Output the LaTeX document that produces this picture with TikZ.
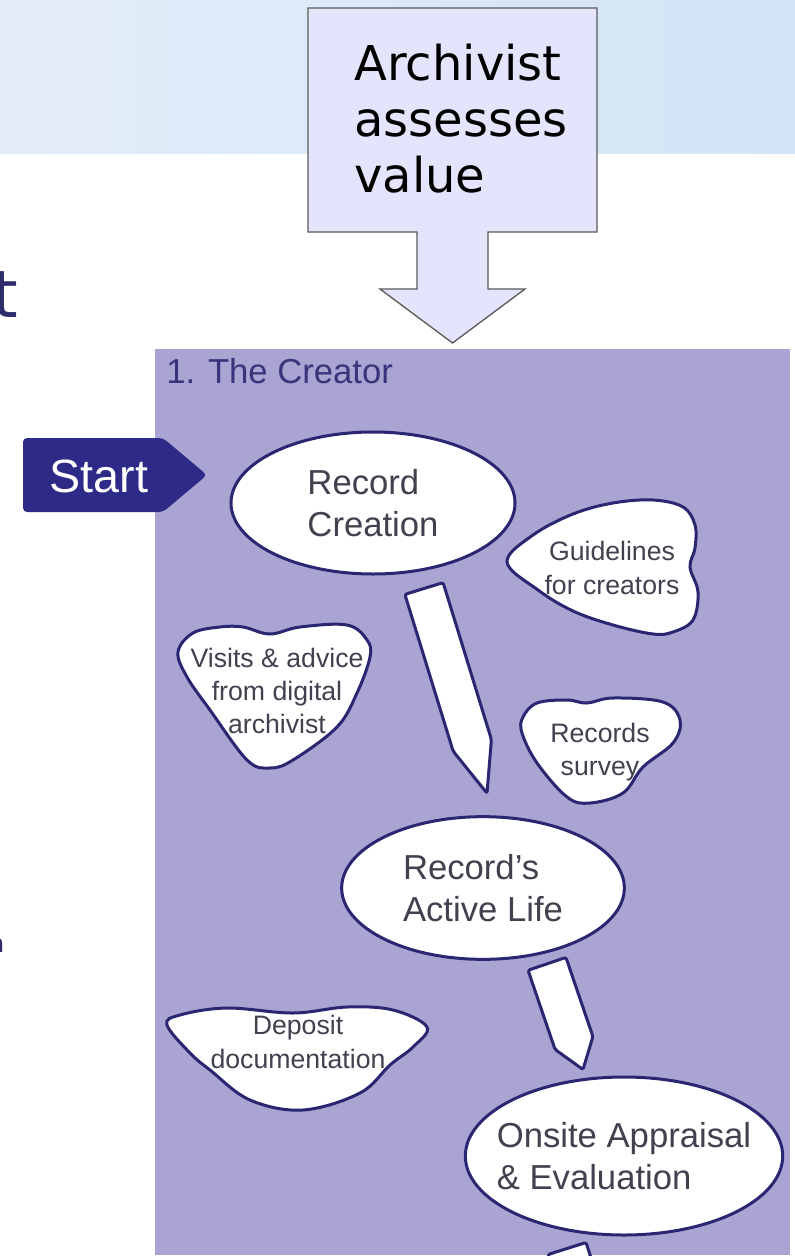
\documentclass[tikz,border=0pt]{standalone}
\usepackage{fontspec}
\setmainfont{Liberation Sans}
\newfontfamily\dejavu{DejaVu Sans}
\usetikzlibrary{shapes.geometric,calc,positioning}

\definecolor{bandleft}{HTML}{E3EDF8}
\definecolor{bandright}{HTML}{D2E4F7}
\definecolor{panelfill}{HTML}{A9A4D1}
\definecolor{calloutfill}{HTML}{E4E4FC}
\definecolor{calloutline}{HTML}{5A5A5A}
\definecolor{navyline}{HTML}{2B2672}
\definecolor{startfill}{HTML}{2E2A87}
\definecolor{creatortext}{HTML}{38357C}
\definecolor{bodytext}{HTML}{41414F}
\definecolor{titletext}{HTML}{2E2C6B}

\tikzset{
  stage/.style={ellipse,draw=navyline,line width=2.25pt,fill=white,inner xsep=-40pt,inner ysep=-12pt,
    align=left,text=bodytext,font=\fontsize{26}{32}\selectfont},
  blobline/.style={draw=navyline,line width=2.25pt,fill=white},
  blobtext/.style={align=center,text=bodytext,inner sep=0pt,font=\fontsize{20}{25}\selectfont},
  pencilline/.style={draw=navyline,line width=2.25pt,fill=white,line join=round,rounded corners=1.5pt}
}

% pencil arrow: start, tip, tip length
\newcommand{\pencil}[3]{%
  \coordinate (pm) at ($(#2)!#3!(#1)$);
  \draw[pencilline] ($(#1)!15pt!90:(#2)$) -- ($(pm)!15pt!90:(#2)$) -- (#2)
    -- ($(pm)!15pt!-90:(#2)$) -- ($(#1)!15pt!-90:(#2)$) -- cycle;
}

\begin{document}
\begin{tikzpicture}[x=0.75pt,y=-0.75pt]
  \useasboundingbox (0,0) rectangle (795,1259);
  \fill[white] (0,0) rectangle (795,1259);
  \shade[left color=bandleft,right color=bandright] (0,0) rectangle (795,154);

  % cut-off title letters
  \node[anchor=base west,inner sep=0pt,text=titletext,font=\dejavu\fontsize{49}{49}\selectfont] (titlet) at (-8,317) {t};
  \node[anchor=base west,inner sep=0pt,text=titletext,font=\dejavu\fontsize{19}{19}\selectfont] (titlen) at (-12,952) {n};

  % callout
  \draw[fill=calloutfill,draw=calloutline,line width=1pt] (308,8) -- (597,8) -- (597,232) -- (488,232)
    -- (488,289) -- (525,289) -- (452.5,343) -- (380,289) -- (417,289) -- (417,232) -- (308,232) -- cycle;
  \node[anchor=north west,inner sep=0pt,align=left,font=\dejavu\fontsize{36}{42}\selectfont] (assess) at (354,43.5) {Archivist\\assesses\\value};

  % panel
  \fill[panelfill] (155,349) rectangle (790,1255);
  \node[anchor=base west,inner sep=0pt,text=creatortext,font=\fontsize{26}{26}\selectfont] (creator) at (166,383) {1. The Creator};

  % start tag
  \fill[startfill,rounded corners=3pt] (23,438) -- (163,438) -- (207,475) -- (163,512) -- (23,512) -- cycle;
  \node[inner sep=0pt,text=white,font=\fontsize{35}{35}\selectfont] (start) at (99,476) {Start};

  % stages
  \node[stage,minimum width=213pt,minimum height=106.5pt] (creation) at (373,503) {Record\\Creation};
  \node[stage,minimum width=212pt,minimum height=107pt] (active) at (483,888) {Record's\\Active Life};
  \node[stage,minimum width=238pt,minimum height=118.5pt] (onsite) at (624,1156) {Onsite Appraisal\\\& Evaluation};

  % pencils between stages
  \coordinate (p1s) at ($(creation.south)+(51,13)$);
  \coordinate (p1t) at ($(active.north)+(4,-22)$);
  \pencil{p1s}{p1t}{37.5pt}
  \coordinate (p2s) at ($(active.south)+(64,3)$);
  \coordinate (p2t) at ($(onsite.north)+(-41,-6)$);
  \pencil{p2s}{p2t}{21pt}
  \begin{scope}
    \clip (155,349) rectangle (790,1255);
    \coordinate (p3s) at ($(onsite.south)+(-57,12)$);
    \coordinate (p3t) at ($(p3s)+(31,98)$);
    \pencil{p3s}{p3t}{21pt}
  \end{scope}

  % side notes
  \draw[blobline] plot[smooth cycle,tension=0.6] coordinates {(507,562) (533,535) (573,514) (613,503)
    (653,500) (683,507) (695,525) (695,548) (690,567) (698,592) (693,620) (673,632) (653,634)
    (613,625) (573,611) (538,590)};
  \node[blobtext] (guide) at (612,568) {Guidelines\\for creators};

  \draw[blobline] plot[smooth cycle,tension=0.6] coordinates {(178,652) (193,633) (220,627) (243,627)
    (270,634) (300,627) (347,625) (367,640) (370,657) (357,693) (337,727) (293,760) (270,768)
    (247,760) (210,710) (187,677)};
  \node[blobtext] (visits) at (277,691) {Visits \& advice\\from digital\\archivist};

  \draw[blobline] plot[smooth cycle,tension=0.6] coordinates {(523,717) (537,703) (567,700) (587,703)
    (613,698) (663,702) (680,720) (673,743) (643,767) (623,793) (590,803) (567,797) (537,763)
    (522,733)};
  \node[blobtext] (survey) at (600,752) {Records\\survey};

  \draw[blobline] plot[smooth cycle,tension=0.6] coordinates {(167,1025) (180,1015) (227,1008)
    (293,1013) (347,1007) (393,1010) (427,1027) (413,1047) (390,1065) (360,1093) (303,1110)
    (250,1100) (210,1070) (190,1053)};
  \node[blobtext] (deposit) at (298,1042) {Deposit\\documentation};
\end{tikzpicture}
\end{document}
